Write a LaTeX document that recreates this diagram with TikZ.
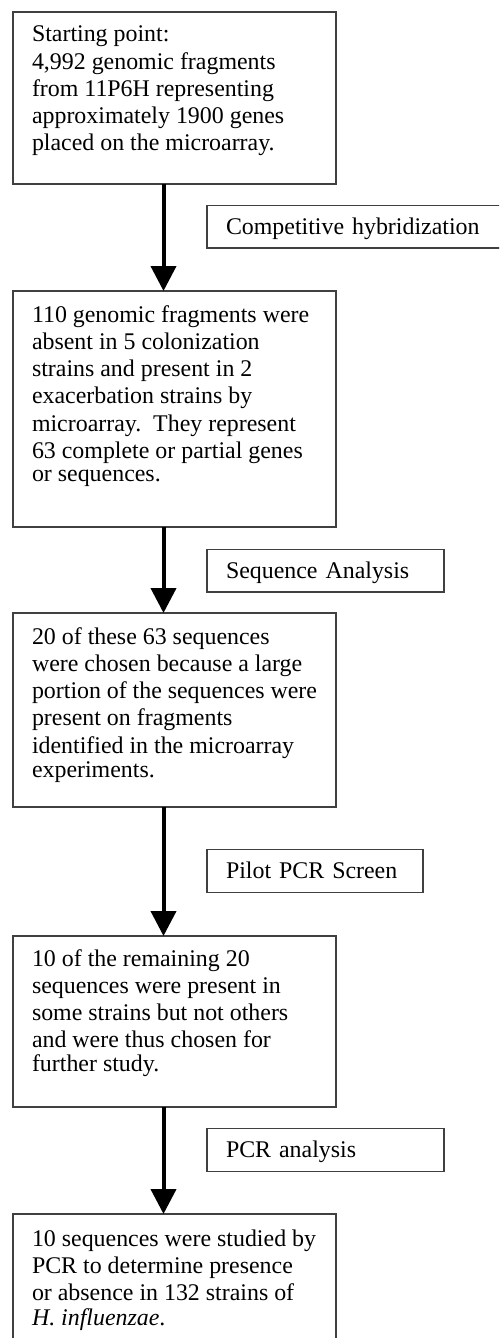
\documentclass[tikz,border=0pt]{standalone}
\usepackage{fontspec}
\setmainfont{Liberation Serif}
\usetikzlibrary{arrows.meta}
\tikzset{
  stagebox/.style={draw=black!75, line width=1.1pt, anchor=north west, inner xsep=19pt, inner ysep=0pt, outer sep=0pt, fill=white},
  labelbox/.style={draw=black!75, line width=1.1pt, anchor=west, inner xsep=19pt, inner ysep=13.5pt, outer sep=0pt,
    text height=15.9pt, text depth=0pt, align=left, font=\fontsize{23.9pt}{27pt}\selectfont},
  flow/.style={line width=4pt, -{Triangle[width=25pt,length=25pt]}}
}
\newcommand{\boxtext}[3]{\parbox[t][#1][t]{285pt}{\fontsize{23.9pt}{27.3pt}\selectfont\raggedright\rule{0pt}{#2}#3}}
\begin{document}
\begin{tikzpicture}[x=1pt,y=1pt]
\useasboundingbox (0,0) rectangle (499,-1338);
\clip (0,0) rectangle (499,-1338);
\fill[white] (0,0) rectangle (499,-1338);

\node[stagebox] (b1) at (13,-12) {\boxtext{172pt}{30pt}{Starting point:\\
4,992 genomic fragments\\
from 11P6H representing\\
approximately 1900 genes\\[-1pt]
placed on the microarray.}};

\node[stagebox] (b2) at (13,-291) {\boxtext{236pt}{31pt}{110 genomic fragments were\\
absent in 5 colonization\\
strains and present in 2\\
exacerbation strains by\\
microarray.\ \ They represent\\
63 complete or partial genes\\[-4pt]
or sequences.}};

\node[stagebox] (b3) at (13,-613) {\boxtext{194pt}{31pt}{20 of these 63 sequences\\
were chosen because a large\\
portion of the sequences were\\
present on fragments\\
identified in the microarray\\[-3pt]
experiments.}};

\node[stagebox] (b4) at (13,-936) {\boxtext{171pt}{30pt}{10 of the remaining 20\\
sequences were present in\\
some strains but not others\\
and were thus chosen for\\[-3.5pt]
further study.}};

\node[stagebox] (b5) at (13,-1214) {\boxtext{160pt}{32pt}{10 sequences were studied by\\
PCR to determine presence\\
or absence in 132 strains of\\[-2pt]
\textit{H. influenzae}.}};

\node[labelbox, text width=282pt] (l1) at (207,-226.5) {Competitive hybridization};
\node[labelbox, text width=199pt] (l2) at (207,-570.5) {Sequence Analysis};
\node[labelbox, text width=178pt] (l3) at (207,-871) {Pilot PCR Screen};
\node[labelbox, text width=199pt] (l4) at (207,-1150) {PCR analysis};

\draw[flow] ([xshift=150.5pt]b1.south west) -- ([xshift=150.5pt]b2.north west);
\draw[flow] ([xshift=150.5pt]b2.south west) -- ([xshift=150.5pt]b3.north west);
\draw[flow] ([xshift=150.5pt]b3.south west) -- ([xshift=150.5pt]b4.north west);
\draw[flow] ([xshift=150.5pt]b4.south west) -- ([xshift=150.5pt]b5.north west);
\end{tikzpicture}
\end{document}
